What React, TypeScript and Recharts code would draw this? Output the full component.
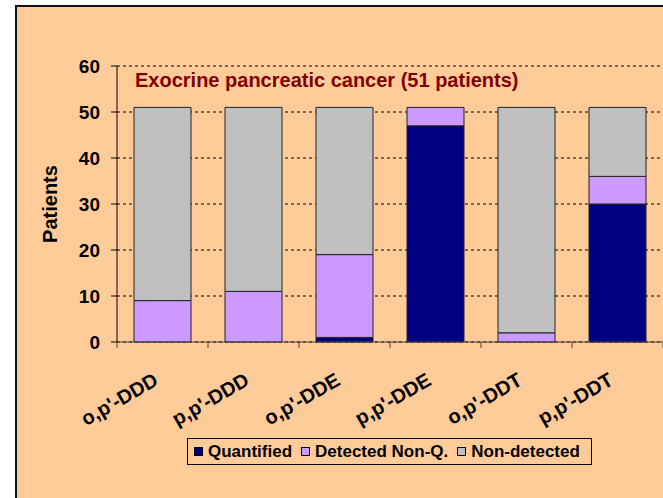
import React from "react";
import {
  BarChart,
  Bar,
  XAxis,
  YAxis,
  CartesianGrid,
  Legend,
  Label,
} from "recharts";

const compounds = ["o,p'-DDD", "p,p'-DDD", "o,p'-DDE", "p,p'-DDE", "o,p'-DDT", "p,p'-DDT"];
const quantified = [0, 0, 1, 47, 0, 30];
const detectedNonQ = [9, 11, 18, 4, 2, 6];
const nonDetected = [42, 40, 32, 0, 49, 15];
const yTicks = [0, 10, 20, 30, 40, 50, 60];

const series = [
  { key: "quantified", label: "Quantified", color: "#000080" },
  { key: "detected", label: "Detected Non-Q.", color: "#CC99FF" },
  { key: "nondetected", label: "Non-detected", color: "#C0C0C0" },
];

const data = compounds.map((name, i) => ({
  name,
  quantified: quantified[i],
  detected: detectedNonQ[i],
  nondetected: nonDetected[i],
}));

const FONT = "'Liberation Sans', Arial, sans-serif";
const BG = "#FFCC99";

function XTick(props: any) {
  const { x, y, payload, index } = props;
  const half = payload && payload.offset ? payload.offset : 45.5;
  const tx = x - 3;
  const ty = y + 36;
  return (
    <g>
      <line x1={x - half} x2={x - half} y1={y - 6} y2={y} stroke="#444" />
      {index === compounds.length - 1 && (
        <line x1={x + half} x2={x + half} y1={y - 6} y2={y} stroke="#444" />
      )}
      <text
        x={tx}
        y={ty}
        textAnchor="end"
        fontSize={20}
        fontWeight="bold"
        fill="#000"
        transform={`rotate(-30, ${tx}, ${ty})`}
      >
        {payload.value}
      </text>
    </g>
  );
}

function renderLegend() {
  return (
    <div
      style={{
        width: 397,
        height: 25,
        border: "1px solid #000",
        background: BG,
        display: "flex",
        alignItems: "center",
        fontFamily: FONT,
        fontSize: 17,
        fontWeight: "bold",
        color: "#000",
        paddingLeft: 6,
        boxSizing: "content-box",
        whiteSpace: "nowrap",
      }}
    >
      {series.map((s) => (
        <span key={s.key} style={{ display: "flex", alignItems: "center", marginRight: 9 }}>
          <span
            style={{
              display: "inline-block",
              width: 7,
              height: 7,
              border: "1px solid #000",
              background: s.color,
              marginRight: 5,
            }}
          />
          {s.label}
        </span>
      ))}
    </div>
  );
}

export default function App() {
  return (
    <div
      style={{
        position: "absolute",
        left: 0,
        top: 0,
        width: 663,
        height: 498,
        overflow: "hidden",
        background: "#fff",
        fontFamily: FONT,
      }}
    >
      <div
        style={{
          position: "absolute",
          left: 15,
          top: 5,
          width: 700,
          height: 560,
          border: "2px solid #111",
          background: BG,
        }}
      />
      <div
        style={{
          position: "absolute",
          left: 135,
          top: 70,
          fontSize: 20,
          lineHeight: "20px",
          fontWeight: "bold",
          color: "#800000",
          whiteSpace: "nowrap",
        }}
      >
        Exocrine pancreatic cancer (51 patients)
      </div>
      <div style={{ position: "absolute", left: 0, top: 0 }}>
        <BarChart
          width={663}
          height={498}
          data={data}
          margin={{ top: 66, right: 0, left: 0, bottom: 33 }}
          barCategoryGap="37%"
        >
          <CartesianGrid vertical={false} stroke="#000" strokeDasharray="3 3" />
          <XAxis
            dataKey="name"
            height={96}
            interval={0}
            axisLine={{ stroke: "#444" }}
            tickLine={false}
            tickSize={6}
            tickMargin={0}
            tick={<XTick />}
          />
          <YAxis
            width={117}
            domain={[0, 60]}
            ticks={yTicks}
            interval={0}
            axisLine={{ stroke: "#000" }}
            tickLine={{ stroke: "#000" }}
            tickSize={6}
            tickMargin={11}
            tick={{ fill: "#000", fontSize: 19, fontWeight: "bold" }}
          >
            <Label
              content={(p: any) => {
                const vb = p.viewBox || { y: 66, height: 276 };
                const cy = vb.y + vb.height / 2;
                return (
                  <text
                    x={57}
                    y={cy}
                    textAnchor="middle"
                    fontSize={20}
                    fontWeight="bold"
                    fill="#000"
                    transform={`rotate(-90, 57, ${cy})`}
                  >
                    Patients
                  </text>
                );
              }}
            />
          </YAxis>
          <Legend
            verticalAlign="bottom"
            align="left"
            content={renderLegend}
            wrapperStyle={{ left: 187, width: 405 }}
          />
          {series.map((s) => (
            <Bar
              key={s.key}
              dataKey={s.key}
              stackId="a"
              barSize={57}
              fill={s.color}
              stroke="#222"
              strokeWidth={1}
              name={s.label}
              isAnimationActive={false}
            />
          ))}
        </BarChart>
      </div>
    </div>
  );
}
